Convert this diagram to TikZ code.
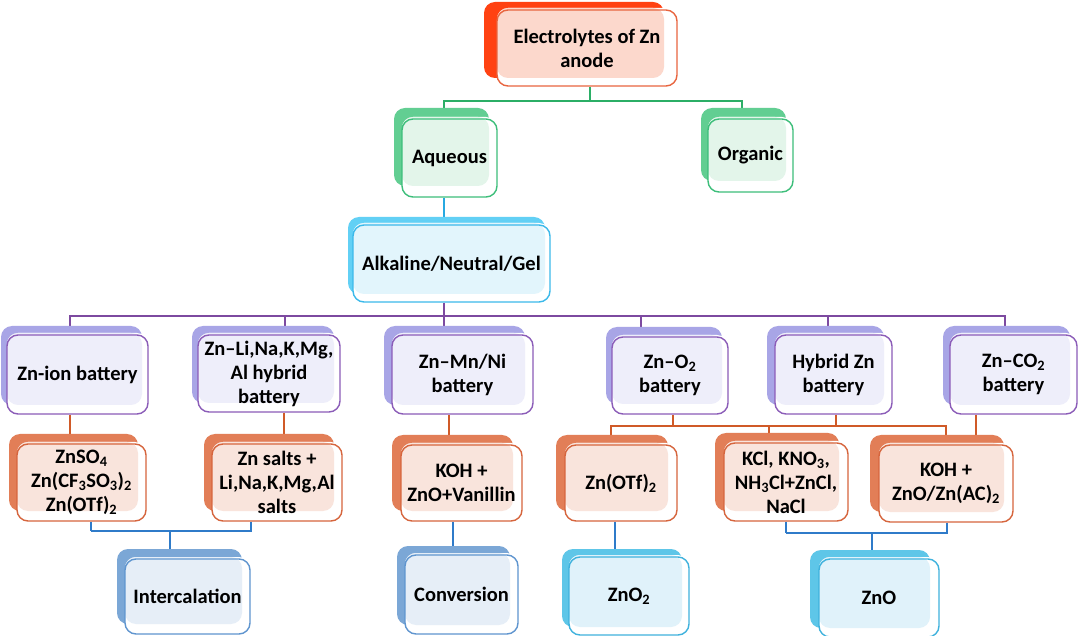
\documentclass[tikz,border=0pt]{standalone}
\usepackage{fontspec}
\setmainfont{Carlito}
\usetikzlibrary{calc}
\pgfdeclarelayer{back}
\pgfdeclarelayer{bg}
\pgfsetlayers{back,bg,main}
% colour sets: S = shadow, B = border, T = tint
\definecolor{redS}{HTML}{FF4212}\definecolor{redB}{HTML}{E8653F}\definecolor{redT}{HTML}{FCD8CC}
\definecolor{grnS}{HTML}{62CE92}\definecolor{grnB}{HTML}{3DBE7A}\definecolor{grnT}{HTML}{E3F5EA}
\definecolor{cyaS}{HTML}{62D0F5}\definecolor{cyaB}{HTML}{3BB9EA}\definecolor{cyaT}{HTML}{E2F5FC}
\definecolor{purS}{HTML}{A8A5E6}\definecolor{purB}{HTML}{8B5CB8}\definecolor{purT}{HTML}{EEEEFA}
\definecolor{orgS}{HTML}{E27E57}\definecolor{orgB}{HTML}{D6653D}\definecolor{orgT}{HTML}{F9E4DC}
\definecolor{stlS}{HTML}{7BA7D6}\definecolor{stlB}{HTML}{5F95CF}\definecolor{stlT}{HTML}{E6EEF7}
\definecolor{skyS}{HTML}{5EC6E8}\definecolor{skyB}{HTML}{3FB2DD}\definecolor{skyT}{HTML}{E0F2FA}
\definecolor{lnGreen}{HTML}{2BAE66}
\definecolor{lnCyan}{HTML}{27A9E1}
\definecolor{lnPurple}{HTML}{7D4AA0}
\definecolor{lnOrange}{HTML}{D05A28}
\definecolor{lnBlue}{HTML}{2F7BC9}
\tikzset{
  zbox/.style={rounded corners=11pt, line width=1.4pt, align=center, inner sep=2pt,
    font=\bfseries\fontsize{20.5}{24}\selectfont, text=black},
  conn/.style={line width=2.2pt}
}
% #1 name, #2 colour set, #3-#6 front box x0,y0,x1,y1, #7 #8 shadow offset, #9 text
\newcommand\zb[9]{%
  \fill[#2S, rounded corners=11pt] ({#3-#7},{#4-#8}) rectangle ({#5-#7},{#6-#8});
  \fill[white, rounded corners=11pt] (#3,#4) rectangle (#5,#6);
  \fill[#2T, rounded corners=11pt] (#3,#4) rectangle ({#5-#7},{#6-#8});
  \node[zbox, draw=#2B, minimum width={(#5-#3)*1pt}, minimum height={(#6-#4)*1pt}]
    (#1) at ({(#3+#5)/2},{(#4+#6)/2+2}) {#9};
}
\begin{document}
\begin{tikzpicture}[x=1pt,y=-1pt]
\begin{pgfonlayer}{back}
\fill[white] (0,0) rectangle (1080,636);
\end{pgfonlayer}
\useasboundingbox (0,0) rectangle (1080,636);
% level 0-2
\zb{top}{red}{497}{8}{677}{84}{13}{6}{Electrolytes of Zn\\anode}
\zb{aq}{grn}{402}{117}{497}{195}{8}{9}{Aqueous}
\zb{org}{grn}{708}{117}{793}{190}{7}{9}{Organic}
\zb{alk}{cya}{353}{223}{550}{300}{5}{6}{Alkaline/Neutral/Gel}
% level 3
\zb{zi}{pur}{7}{333}{148}{412}{6}{7}{Zn-ion battery}
\zb{zl}{pur}{198}{333}{340}{410}{6}{7}{Zn–Li,Na,K,Mg,\\Al hybrid\\battery}
\zb{zm}{pur}{392}{333}{533}{412}{8}{7}{Zn–Mn/Ni\\battery}
\zb{zo}{pur}{612}{335}{728}{412}{6}{8}{Zn–O\textsubscript{2}\\battery}
\zb{hz}{pur}{775}{333}{892}{412}{8}{7}{Hybrid Zn\\battery}
\zb{zc}{pur}{950}{333}{1077}{412}{7}{7}{Zn–CO\textsubscript{2}\\battery}
% level 4
\zb{s1}{org}{17}{442}{146}{519}{8}{8}{ZnSO\textsubscript{4}\\Zn(CF\textsubscript{3}SO\textsubscript{3})\textsubscript{2}\\Zn(OTf)\textsubscript{2}}
\zb{s2}{org}{212}{442}{342}{519}{8}{8}{Zn salts +\\Li,Na,K,Mg,Al\\salts}
\zb{s3}{org}{401}{443}{522}{519}{9}{8}{KOH +\\ZnO+Vanillin}
\zb{s4}{org}{565}{443}{677}{519}{9}{8}{Zn(OTf)\textsubscript{2}}
\zb{s5}{org}{724}{441}{848}{519}{9}{8}{KCl, KNO\textsubscript{3},\\NH\textsubscript{3}Cl+ZnCl,\\NaCl}
\zb{s6}{org}{879}{443}{1013}{520}{9}{8}{KOH +\\ZnO/Zn(AC)\textsubscript{2}}
% level 5
\zb{ic}{stl}{125}{557}{250}{632}{8}{8}{Intercalation}
\zb{cv}{stl}{405}{553}{518}{632}{8}{7}{Conversion}
\zb{zo2}{sky}{569}{555}{689}{633}{7}{6}{ZnO\textsubscript{2}}
\zb{zno}{sky}{819}{557}{939}{635}{9}{7}{ZnO}
% connectors (behind the boxes)
\begin{pgfonlayer}{bg}
\draw[conn, lnGreen] ([xshift=3]top.south) -- ++(0,14) coordinate (gb);
\draw[conn, lnGreen] ([xshift=-5.5]aq.north) |- (gb);
\draw[conn, lnGreen] ([xshift=-8.5]org.north) |- (gb);
\draw[conn, lnCyan] ([xshift=-5.5]aq.south) -- ([xshift=-7.5]alk.north);
\draw[conn, lnPurple] ([xshift=-7.5]alk.south) -- ++(0,13) coordinate (pb);
\draw[conn, lnPurple] ([xshift=-7.5]zi.north) |- (pb);
\draw[conn, lnPurple] ([xshift=16]zl.north) |- (pb);
\draw[conn, lnPurple] ([xshift=-18.5]zm.north) |- (pb);
\draw[conn, lnPurple] ([xshift=-29]zo.north) |- (pb);
\draw[conn, lnPurple] ([xshift=-5.5]hz.north) |- (pb);
\draw[conn, lnPurple] ([xshift=-8.5]zc.north) |- (pb);
\draw[conn, lnOrange] ([xshift=-7.5]zi.south) -- ([xshift=-11.5]s1.north);
\draw[conn, lnOrange] ([xshift=15]zl.south) -- ([xshift=7]s2.north);
\draw[conn, lnOrange] ([xshift=-13.5]zm.south) -- ([xshift=-12.5]s3.north);
\draw[conn, lnOrange] ([xshift=3]zo.south) -- ++(0,11) coordinate (ob);
\draw[conn, lnOrange] ([xshift=-10]s4.north) |- (ob);
\draw[conn, lnOrange] ([xshift=2.5]hz.south) |- (ob);
\draw[conn, lnOrange] ([xshift=-17]s5.north) |- (ob);
\draw[conn, lnOrange] (s6.north) |- (ob);
\draw[conn, lnOrange] ([xshift=-37.5]zc.south) -- ([xshift=30]s6.north);
\draw[conn, lnBlue] ([xshift=9.5]s1.south) -- ++(0,9) coordinate (b1);
\draw[conn, lnBlue] ([xshift=-26]s2.south) |- (b1);
\draw[conn, lnBlue] ([xshift=-17.5]ic.north) |- (b1);
\draw[conn, lnBlue] ([xshift=-8.5]s3.south) -- ([xshift=-8.5]cv.north);
\draw[conn, lnBlue] ([xshift=-6]s4.south) -- ([xshift=-14]zo2.north);
\draw[conn, lnBlue] (s5.south) -- ++(0,11) coordinate (b2);
\draw[conn, lnBlue] ([xshift=1]s6.south) |- (b2);
\draw[conn, lnBlue] ([xshift=-7]zno.north) |- (b2);
\end{pgfonlayer}
\end{tikzpicture}
\end{document}
